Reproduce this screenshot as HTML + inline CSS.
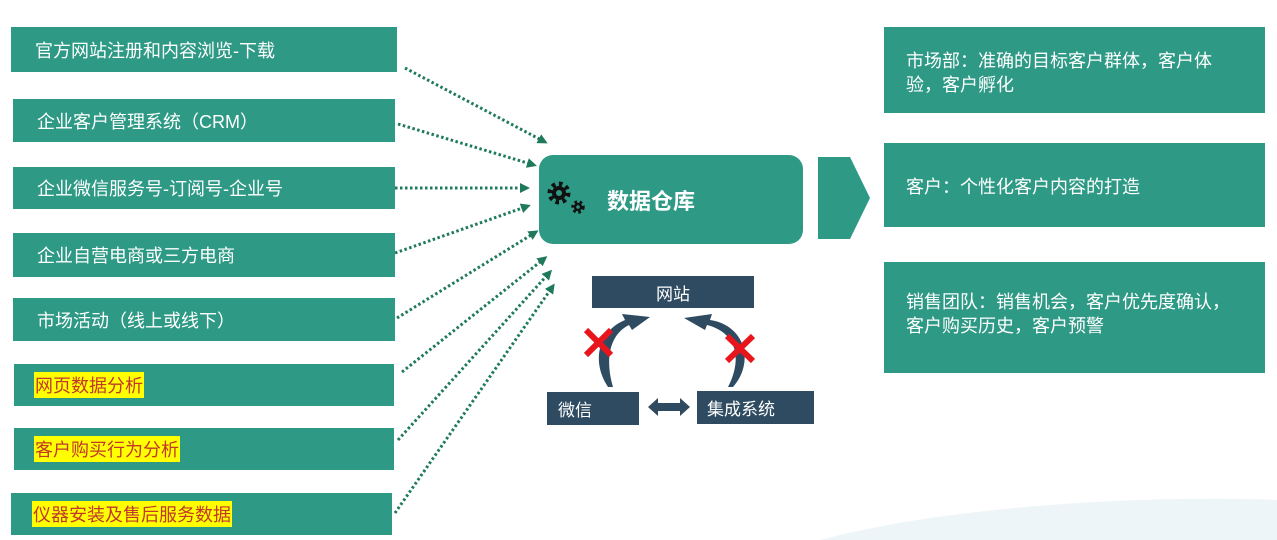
<!DOCTYPE html>
<html><head><meta charset="utf-8"><style>
body{margin:0;width:1277px;height:540px;background:#fff;position:relative;overflow:hidden;font-family:"Liberation Sans","Noto Sans CJK SC",sans-serif}
.b{position:absolute;background:#2e9a85;color:#fff;font-size:18px;box-sizing:border-box;padding-left:24px;display:flex;align-items:center}
.y{background:#ffff00;color:#c0392b;padding:0 1px}
.r{position:absolute;background:#2e9a85;color:#fff;font-size:18px;line-height:24px;box-sizing:border-box;padding:22px 24px 0 22px;left:884px;width:381px}
.d{position:absolute;background:#2f4b61;color:#fff;font-size:17px;display:flex;align-items:center}
</style></head><body>
<div class="b" style="left:11px;top:27px;width:386px;height:45px">官方网站注册和内容浏览-下载</div>
<div class="b" style="left:13px;top:99px;width:382px;height:43px">企业客户管理系统（CRM）</div>
<div class="b" style="left:13px;top:167px;width:382px;height:42px">企业微信服务号-订阅号-企业号</div>
<div class="b" style="left:13px;top:233px;width:382px;height:44px">企业自营电商或三方电商</div>
<div class="b" style="left:13px;top:298px;width:382px;height:43px">市场活动（线上或线下）</div>
<div class="b" style="left:14px;top:364px;width:380px;height:42px;padding-left:20px"><span class="y">网页数据分析</span></div>
<div class="b" style="left:14px;top:428px;width:380px;height:42px;padding-left:20px"><span class="y">客户购买行为分析</span></div>
<div class="b" style="left:11px;top:493px;width:381px;height:42px;padding-left:21px"><span class="y">仪器安装及售后服务数据</span></div>

<div style="position:absolute;left:539px;top:155px;width:264px;height:89px;background:#2e9a85;border-radius:14px"></div>
<div style="position:absolute;left:607px;top:184px;color:#fff;font-size:22px;font-weight:bold">数据仓库</div>

<div class="r" style="top:27px;height:86px">市场部：准确的目标客户群体，客户体验，客户孵化</div>
<div class="r" style="top:143px;height:84px;padding-top:32px">客户：个性化客户内容的打造</div>
<div class="r" style="top:262px;height:111px;padding-top:28px">销售团队：销售机会，客户优先度确认，客户购买历史，客户预警</div>

<div class="d" style="left:592px;top:276px;width:162px;height:32px;justify-content:center">网站</div>
<div class="d" style="left:547px;top:392px;width:92px;height:33px;padding-left:11px;box-sizing:border-box">微信</div>
<div class="d" style="left:697px;top:391px;width:117px;height:33px;padding-left:10px;box-sizing:border-box">集成系统</div>

<svg width="1277" height="540" style="position:absolute;left:0;top:0">
<defs><marker id="a" markerWidth="10" markerHeight="10" refX="7" refY="5" orient="auto" markerUnits="userSpaceOnUse"><path d="M0,0L10,5L0,10z" fill="#1f7a5c"/></marker></defs>
<g stroke="#1f7a5c" stroke-width="3" stroke-dasharray="2.5 2.5" fill="none" marker-end="url(#a)">
<line x1="405" y1="68" x2="545" y2="142"/>
<line x1="398" y1="124" x2="534" y2="165"/>
<line x1="395" y1="188" x2="527" y2="188"/>
<line x1="395" y1="253" x2="528" y2="206"/>
<line x1="397" y1="318" x2="536" y2="232"/>
<line x1="402" y1="372" x2="545" y2="258"/>
<line x1="398" y1="440" x2="550" y2="272"/>
<line x1="395" y1="513" x2="553" y2="286"/>
</g>
<g fill="none" stroke="#111">
<circle cx="559" cy="193" r="9" stroke-width="5" stroke-dasharray="3.5 3.5"/>
<circle cx="559" cy="193" r="5" stroke-width="4"/>
<circle cx="578" cy="207" r="5" stroke-width="3.5" stroke-dasharray="2.5 2.5"/>
<circle cx="578" cy="207" r="3" stroke-width="2.5"/>
</g>
<path d="M818,157L850,157L870,198L850,239L818,239z" fill="#2e9a85"/>
<path d="M648,407L658,398L658,403L680,403L680,398L690,407L680,416L680,411L658,411L658,416z" fill="#2f4b61"/>
<path d="M608,387C590,360 600,330 625,320L622,314L650,317L632,330L629,325C609,335 605,360 613,387z" fill="#2f4b61"/>
<path d="M733,387C755,362 745,325 710,320L712,314L684,318L705,330L707,325C738,333 742,360 728,387z" fill="#2f4b61"/>
<g stroke="#e8161c" stroke-width="6"><line x1="586" y1="330" x2="611" y2="355"/><line x1="611" y1="330" x2="586" y2="355"/>
<line x1="727" y1="336" x2="753" y2="361"/><line x1="753" y1="336" x2="727" y2="361"/></g>
<path d="M820,540C950,505 1150,495 1277,500L1277,540z" fill="#eef5f9"/>
</svg>
</body></html>
